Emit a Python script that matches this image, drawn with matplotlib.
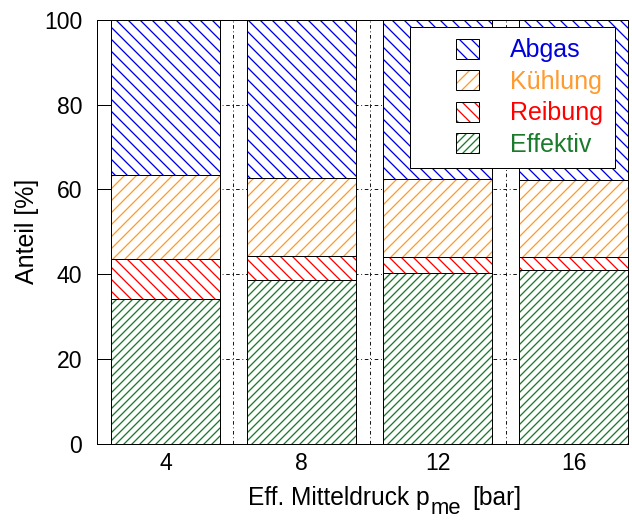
import matplotlib
matplotlib.use("Agg")
import matplotlib.pyplot as plt
from matplotlib.patches import Rectangle
from matplotlib.legend_handler import HandlerBase
import numpy as np

plt.rcParams['font.family'] = ['Liberation Sans', 'DejaVu Sans']
plt.rcParams['hatch.linewidth'] = 1.3

categories = ['4', '8', '12', '16']
effektiv = [34.1, 38.6, 40.2, 41.0]
reibung = [9.4, 5.6, 3.9, 3.1]
kuehlung = [19.8, 18.5, 18.4, 18.1]
abgas = [36.7, 37.3, 37.5, 37.8]

series = [
    ('Effektiv', effektiv, '#1b7a2b', '///'),
    ('Reibung', reibung, '#ff0000', '\\\\'),
    ('Kühlung', kuehlung, '#ff9a2e', '//'),
    ('Abgas', abgas, '#0000dd', '\\\\'),
]

W, H = 632, 520
DPI = 72
fig = plt.figure(figsize=(W / DPI, H / DPI), dpi=DPI)
ax = fig.add_axes([97.3 / W, 1 - 443.7 / H, (628.3 - 97.3) / W, (443.7 - 20) / H])

x = np.arange(len(categories))
bottom = np.zeros(len(categories))
handles = {}
for name, vals, col, hatch in series:
    vals = np.array(vals)
    hb = ax.bar(x, vals, width=0.8, bottom=bottom, facecolor='white', edgecolor=col,
                hatch=hatch, linewidth=0, zorder=2)
    ax.bar(x, vals, width=0.8, bottom=bottom, fill=False, edgecolor='black',
           linewidth=1.0, zorder=3)
    handles[name] = hb[0]
    bottom += vals

ax.set_xlim(-0.5, 3.4)
ax.set_ylim(0, 100)
ax.set_xticks(x)
ax.set_xticklabels(categories)
ax.set_xticks([0.5, 1.5, 2.5], minor=True)
ax.set_yticks([0, 20, 40, 60, 80, 100])
ax.set_axisbelow(True)
ax.grid(True, which='minor', axis='x', color='black', linestyle=(0, (4, 3, 1, 3)), linewidth=0.9)
ax.grid(True, which='major', axis='y', color='black', linestyle=(0, (4, 3, 1, 3)), linewidth=0.9)
ax.tick_params(axis='x', which='both', length=0, pad=8, labelsize=23)
ax.tick_params(axis='y', direction='in', length=14, pad=15, labelsize=23, width=1)
for sp in ax.spines.values():
    sp.set_linewidth(1.0)
    sp.set_zorder(4)

ax.set_ylabel('Anteil [%]', fontsize=25, labelpad=5)

# x label with a large, lowered subscript (as in the reference)
t1 = fig.text(248 / W, 1 - 505.5 / H, 'Eff. Mitteldruck p', fontsize=24.5,
              ha='left', va='baseline')
t2 = ax.annotate('me', xy=(1, H - 514.0), xycoords=(t1, 'figure pixels'), xytext=(1, 0),
                 textcoords='offset points', fontsize=22, ha='left', va='baseline',
                 annotation_clip=False)
t3 = ax.annotate('[bar]', xy=(1, H - 505.5), xycoords=(t2, 'figure pixels'), xytext=(11, 0),
                 textcoords='offset points', fontsize=24.5, ha='left', va='baseline',
                 annotation_clip=False)


class HatchBoxHandler(HandlerBase):
    def create_artists(self, legend, orig_handle, xdescent, ydescent, width, height, fontsize, trans):
        w = 23
        x0 = -xdescent + width - w
        r1 = Rectangle((x0, -ydescent), w, height, facecolor='white',
                       edgecolor=orig_handle.get_edgecolor(), hatch=orig_handle.get_hatch(),
                       linewidth=0, transform=trans)
        r2 = Rectangle((x0, -ydescent), w, height, fill=False, edgecolor='black',
                       linewidth=1.0, transform=trans)
        return [r1, r2]


order = ['Abgas', 'Kühlung', 'Reibung', 'Effektiv']
colors = {n: c for n, _, c, _ in series}
leg = ax.legend([handles[n] for n in order], order,
                handler_map={Rectangle: HatchBoxHandler()},
                loc='upper left', bbox_to_anchor=(410 / W, 1 - 27 / H),
                bbox_transform=fig.transFigure, borderaxespad=0,
                fontsize=25, handlelength=2.32, handleheight=0.85,
                handletextpad=1.24, labelspacing=0.3, borderpad=0.45,
                fancybox=False, framealpha=1, edgecolor='black')
leg.get_frame().set_linewidth(1.0)
leg.set_zorder(10)
for t, n in zip(leg.get_texts(), order):
    t.set_color(colors[n])

fig.savefig('out.png', dpi=DPI)
